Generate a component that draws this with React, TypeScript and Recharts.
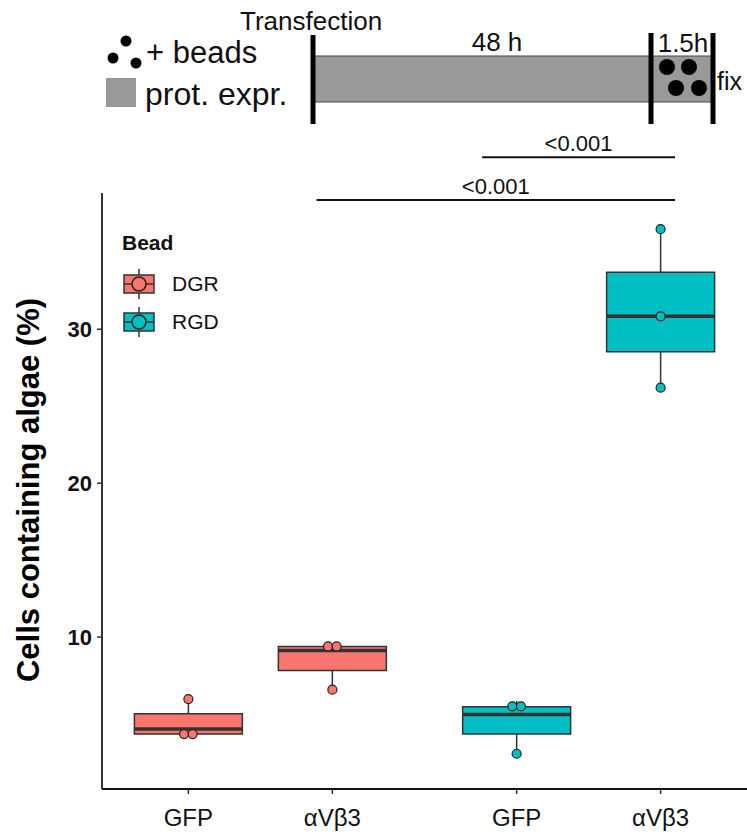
import React from "react"
import {
  ComposedChart,
  XAxis,
  YAxis,
  Scatter,
  ReferenceArea,
  ReferenceLine,
  Legend,
} from "recharts"

// categories and positions on the x axis (second group is shifted right)
const groups = ["GFP", "αVβ3", "GFP", "αVβ3"]
const positions = [1, 2, 3.28, 4.28]
const beadOf = ["DGR", "DGR", "RGD", "RGD"]
const beads = ["DGR", "RGD"]
const beadColors: Record<string, string> = { DGR: "#F8766D", RGD: "#00BFC4" }

// box statistics (%)
const whiskerLow = [3.7, 6.58, 2.42, 26.2]
const q1 = [3.7, 7.83, 3.7, 28.53]
const medians = [4.03, 9.13, 4.97, 30.84]
const q3 = [5.02, 9.39, 5.48, 33.7]
const whiskerHigh = [5.97, 9.39, 5.85, 36.5]

// individual replicates and their small horizontal jitter
const pointValues = [
  [5.97, 3.7, 3.7],
  [9.39, 9.39, 6.58],
  [5.5, 5.5, 2.42],
  [36.5, 30.84, 26.2],
]
const pointJitter = [
  [0, -0.03, 0.03],
  [-0.03, 0.03, 0],
  [-0.03, 0.03, 0],
  [0, 0, 0],
]

// significance brackets
const sigLabels = ["<0.001", "<0.001"]
const sigFrom = [3.04, 1.89]
const sigTo = [4.38, 4.38]
const sigY = [41.17, 38.4]

const yTicks = [10, 20, 30]
const boxWidth = 0.75
const font = "'Liberation Sans', Arial, Helvetica, sans-serif"
const ink = "#333333"

const pointsFor = (bead: string) =>
  positions.flatMap((p, i) =>
    beadOf[i] === bead
      ? pointValues[i].map((v, j) => ({ x: p + pointJitter[i][j], y: v }))
      : []
  )

function LegendBox({ color }: { color: string }) {
  return (
    <svg width={34} height={32} style={{ display: "block" }}>
      <line x1={17} y1={1} x2={17} y2={31} stroke={ink} strokeWidth={1.5} />
      <rect x={2} y={7} width={30} height={18} fill={color} stroke={ink} strokeWidth={1.5} />
      <line x1={2} y1={16} x2={32} y2={16} stroke={ink} strokeWidth={1.5} />
      <circle cx={17} cy={16} r={7} fill={color} stroke="#222" strokeWidth={1.5} />
    </svg>
  )
}

function BeadLegend() {
  return (
    <div style={{ fontFamily: font, color: "#111" }}>
      <div style={{ fontWeight: "bold", fontSize: 21, marginBottom: 10 }}>Bead</div>
      {beads.map((b) => (
        <div key={b} style={{ display: "flex", alignItems: "center", height: 38 }}>
          <LegendBox color={beadColors[b]} />
          <span style={{ fontSize: 21, marginLeft: 16 }}>{b}</span>
        </div>
      ))}
    </div>
  )
}

function Timeline() {
  const t = { fontFamily: font, fill: "#111" }
  return (
    <svg
      width={747}
      height={135}
      style={{ position: "absolute", left: 0, top: 0, pointerEvents: "none" }}
    >
      <circle cx={126} cy={41} r={5.5} fill="#000" />
      <circle cx={113} cy={58} r={5.5} fill="#000" />
      <circle cx={136} cy={63} r={5.5} fill="#000" />
      <text x={146} y={63} fontSize={31} {...t}>+ beads</text>
      <rect x={106} y={78} width={30} height={29} fill="#999" />
      <text x={145} y={105} fontSize={32} {...t}>prot. expr.</text>

      <text x={240} y={30} fontSize={26} {...t}>Transfection</text>
      <rect x={313} y={56} width={339} height={46} fill="#999" stroke="#444" strokeWidth={1} />
      <rect x={652} y={56} width={61} height={46} fill="#999" stroke="#444" strokeWidth={1} />
      <line x1={313} y1={35} x2={313} y2={124} stroke="#000" strokeWidth={5} />
      <line x1={651} y1={33} x2={651} y2={124} stroke="#000" strokeWidth={5} />
      <line x1={713} y1={33} x2={713} y2={124} stroke="#000" strokeWidth={5} />
      <text x={497} y={51} fontSize={26} textAnchor="middle" {...t}>48 h</text>
      <text x={683} y={52} fontSize={26} textAnchor="middle" {...t}>1.5h</text>
      <text x={717} y={90} fontSize={25} {...t}>fix</text>
      <circle cx={667} cy={67} r={8} fill="#000" />
      <circle cx={689} cy={67} r={8} fill="#000" />
      <circle cx={676} cy={88} r={8} fill="#000" />
      <circle cx={699} cy={88} r={8} fill="#000" />
    </svg>
  )
}

export default function App() {
  return (
    <div style={{ position: "absolute", left: 0, top: 0, width: 747, height: 836, background: "#fff" }}>
      <ComposedChart
        width={747}
        height={836}
        margin={{ top: 193, right: 0, bottom: 0, left: 0 }}
        style={{ fontFamily: font }}
      >
        <XAxis
          dataKey="x"
          type="number"
          domain={[0.4, 4.88]}
          allowDataOverflow
          ticks={positions}
          interval={0}
          tickFormatter={(v: number) => groups[positions.indexOf(v)] ?? ""}
          height={47}
          tickSize={5}
          tickMargin={15}
          axisLine={{ stroke: "#111", strokeWidth: 2 }}
          tickLine={{ stroke: ink, strokeWidth: 1.5 }}
          tick={{ fill: "#111", fontSize: 24, fontFamily: font }}
        />
        <YAxis
          dataKey="y"
          type="number"
          domain={[0.13, 38.85]}
          allowDataOverflow
          ticks={yTicks}
          width={102}
          tickSize={5}
          tickMargin={5}
          axisLine={{ stroke: ink, strokeWidth: 2 }}
          tickLine={{ stroke: ink, strokeWidth: 1.5 }}
          tick={{ fill: "#111", fontSize: 22, fontWeight: "bold", fontFamily: font }}
          label={{
            content: () => (
              <text
                x={28}
                y={490}
                transform="rotate(-90 28 490)"
                textAnchor="middle"
                dominantBaseline="central"
                fontSize={31}
                fontWeight="bold"
                fontFamily={font}
                fill="#000"
              >
                Cells containing algae (%)
              </text>
            ),
          }}
        />

        {positions.map((p, i) => (
          <ReferenceArea
            key={`box-${i}`}
            x1={p - boxWidth / 2}
            x2={p + boxWidth / 2}
            y1={q1[i]}
            y2={q3[i]}
            fill={beadColors[beadOf[i]]}
            fillOpacity={1}
            stroke={ink}
            strokeWidth={1.5}
          />
        ))}
        {positions.map((p, i) => (
          <ReferenceLine
            key={`wl-${i}`}
            segment={[{ x: p, y: whiskerLow[i] }, { x: p, y: q1[i] }]}
            stroke={ink}
            strokeWidth={1.5}
          />
        ))}
        {positions.map((p, i) => (
          <ReferenceLine
            key={`wh-${i}`}
            segment={[{ x: p, y: q3[i] }, { x: p, y: whiskerHigh[i] }]}
            stroke={ink}
            strokeWidth={1.5}
          />
        ))}
        {positions.map((p, i) => (
          <ReferenceLine
            key={`med-${i}`}
            segment={[{ x: p - boxWidth / 2, y: medians[i] }, { x: p + boxWidth / 2, y: medians[i] }]}
            stroke={ink}
            strokeWidth={3.5}
          />
        ))}

        {sigLabels.map((s, i) => (
          <ReferenceLine
            key={`sig-${i}`}
            segment={[{ x: sigFrom[i], y: sigY[i] }, { x: sigTo[i], y: sigY[i] }]}
            stroke="#111"
            strokeWidth={2}
            ifOverflow="visible"
            label={{ value: s, position: "top", fill: "#111", fontSize: 22, fontFamily: font, offset: 6 }}
          />
        ))}

        {beads.map((b) => (
          <Scatter
            key={b}
            name={b}
            data={pointsFor(b)}
            isAnimationActive={false}
            shape={(props: any) => (
              <circle cx={props.cx} cy={props.cy} r={4.5} fill={beadColors[b]} stroke="#222" strokeWidth={1.2} />
            )}
          />
        ))}

        <Legend
          layout="vertical"
          align="center"
          verticalAlign="middle"
          content={() => <BeadLegend />}
          wrapperStyle={{ left: 122, top: 231, width: 160, height: 110 }}
        />
      </ComposedChart>
      <Timeline />
    </div>
  )
}
